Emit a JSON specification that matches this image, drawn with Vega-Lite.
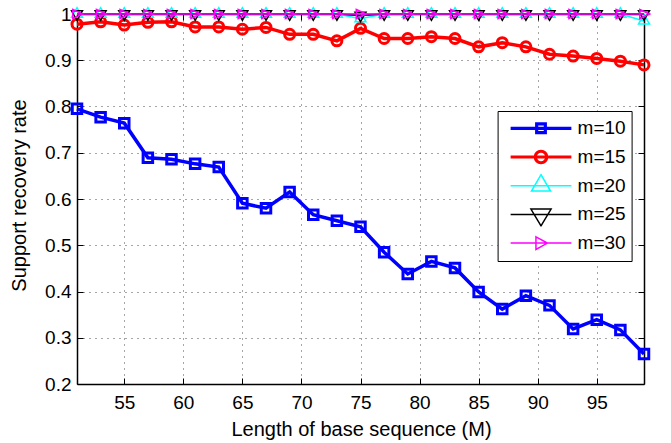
{
 "$schema": "https://vega.github.io/schema/vega-lite/v6.json",
 "width": 567, "height": 370,
 "autosize": {"type": "none"},
 "padding": {"left": 77, "top": 14, "right": 27, "bottom": 59},
 "config": {
  "view": {"stroke": null},
  "font": "Liberation Sans",
  "axis": {"domainColor": "black", "domainWidth": 1.5, "tickColor": "black", "tickWidth": 1, "labelColor": "black", "titleColor": "black", "labelFont": "Liberation Sans", "titleFont": "Liberation Sans", "labelFontSize": 19, "titleFontSize": 20, "titleFontWeight": "normal", "gridColor": "#000000", "gridDash": [1, 5], "gridOpacity": 0.7, "gridWidth": 1},
  "legend": {"title": null, "orient": "none", "legendX": 420.6, "legendY": 97, "strokeColor": "black", "fillColor": "white", "padding": 5, "symbolSize": 784, "symbolOffset": 23.4, "labelOffset": 21.6, "clipHeight": 24.6, "rowPadding": 3.7, "labelFontSize": 19, "labelFont": "Liberation Sans", "labelColor": "black", "symbolFillColor": "transparent", "symbolStrokeWidth": 1.5}
 },
 "data": {"values": [
  {"M":51,"m":"m=10","rate":0.795},{"M":53,"m":"m=10","rate":0.777},{"M":55,"m":"m=10","rate":0.764},{"M":57,"m":"m=10","rate":0.689},{"M":59,"m":"m=10","rate":0.686},{"M":61,"m":"m=10","rate":0.676},{"M":63,"m":"m=10","rate":0.669},{"M":65,"m":"m=10","rate":0.591},{"M":67,"m":"m=10","rate":0.580},{"M":69,"m":"m=10","rate":0.615},{"M":71,"m":"m=10","rate":0.566},{"M":73,"m":"m=10","rate":0.553},{"M":75,"m":"m=10","rate":0.540},{"M":77,"m":"m=10","rate":0.485},{"M":79,"m":"m=10","rate":0.438},{"M":81,"m":"m=10","rate":0.465},{"M":83,"m":"m=10","rate":0.451},{"M":85,"m":"m=10","rate":0.399},{"M":87,"m":"m=10","rate":0.362},{"M":89,"m":"m=10","rate":0.391},{"M":91,"m":"m=10","rate":0.370},{"M":93,"m":"m=10","rate":0.319},{"M":95,"m":"m=10","rate":0.339},{"M":97,"m":"m=10","rate":0.317},{"M":99,"m":"m=10","rate":0.265},
  {"M":51,"m":"m=15","rate":0.978},{"M":53,"m":"m=15","rate":0.983},{"M":55,"m":"m=15","rate":0.976},{"M":57,"m":"m=15","rate":0.982},{"M":59,"m":"m=15","rate":0.983},{"M":61,"m":"m=15","rate":0.972},{"M":63,"m":"m=15","rate":0.972},{"M":65,"m":"m=15","rate":0.967},{"M":67,"m":"m=15","rate":0.971},{"M":69,"m":"m=15","rate":0.956},{"M":71,"m":"m=15","rate":0.956},{"M":73,"m":"m=15","rate":0.942},{"M":75,"m":"m=15","rate":0.969},{"M":77,"m":"m=15","rate":0.947},{"M":79,"m":"m=15","rate":0.947},{"M":81,"m":"m=15","rate":0.951},{"M":83,"m":"m=15","rate":0.947},{"M":85,"m":"m=15","rate":0.929},{"M":87,"m":"m=15","rate":0.938},{"M":89,"m":"m=15","rate":0.929},{"M":91,"m":"m=15","rate":0.913},{"M":93,"m":"m=15","rate":0.909},{"M":95,"m":"m=15","rate":0.904},{"M":97,"m":"m=15","rate":0.898},{"M":99,"m":"m=15","rate":0.890},
  {"M":51,"m":"m=20","rate":1},{"M":53,"m":"m=20","rate":1},{"M":55,"m":"m=20","rate":1},{"M":57,"m":"m=20","rate":1},{"M":59,"m":"m=20","rate":1},{"M":61,"m":"m=20","rate":1},{"M":63,"m":"m=20","rate":1},{"M":65,"m":"m=20","rate":1},{"M":67,"m":"m=20","rate":1},{"M":69,"m":"m=20","rate":1},{"M":71,"m":"m=20","rate":1},{"M":73,"m":"m=20","rate":1},{"M":75,"m":"m=20","rate":0.99},{"M":77,"m":"m=20","rate":1},{"M":79,"m":"m=20","rate":1},{"M":81,"m":"m=20","rate":1},{"M":83,"m":"m=20","rate":1},{"M":85,"m":"m=20","rate":1},{"M":87,"m":"m=20","rate":1},{"M":89,"m":"m=20","rate":1},{"M":91,"m":"m=20","rate":1},{"M":93,"m":"m=20","rate":1},{"M":95,"m":"m=20","rate":1},{"M":97,"m":"m=20","rate":1},{"M":99,"m":"m=20","rate":0.985},
  {"M":51,"m":"m=25","rate":1},{"M":53,"m":"m=25","rate":1},{"M":55,"m":"m=25","rate":1},{"M":57,"m":"m=25","rate":1},{"M":59,"m":"m=25","rate":1},{"M":61,"m":"m=25","rate":1},{"M":63,"m":"m=25","rate":1},{"M":65,"m":"m=25","rate":1},{"M":67,"m":"m=25","rate":1},{"M":69,"m":"m=25","rate":1},{"M":71,"m":"m=25","rate":1},{"M":73,"m":"m=25","rate":1},{"M":75,"m":"m=25","rate":0.997},{"M":77,"m":"m=25","rate":1},{"M":79,"m":"m=25","rate":1},{"M":81,"m":"m=25","rate":1},{"M":83,"m":"m=25","rate":1},{"M":85,"m":"m=25","rate":1},{"M":87,"m":"m=25","rate":1},{"M":89,"m":"m=25","rate":1},{"M":91,"m":"m=25","rate":1},{"M":93,"m":"m=25","rate":1},{"M":95,"m":"m=25","rate":1},{"M":97,"m":"m=25","rate":1},{"M":99,"m":"m=25","rate":1},
  {"M":51,"m":"m=30","rate":1},{"M":53,"m":"m=30","rate":1},{"M":55,"m":"m=30","rate":1},{"M":57,"m":"m=30","rate":1},{"M":59,"m":"m=30","rate":1},{"M":61,"m":"m=30","rate":1},{"M":63,"m":"m=30","rate":1},{"M":65,"m":"m=30","rate":1},{"M":67,"m":"m=30","rate":1},{"M":69,"m":"m=30","rate":1},{"M":71,"m":"m=30","rate":1},{"M":73,"m":"m=30","rate":1},{"M":75,"m":"m=30","rate":1},{"M":77,"m":"m=30","rate":1},{"M":79,"m":"m=30","rate":1},{"M":81,"m":"m=30","rate":1},{"M":83,"m":"m=30","rate":1},{"M":85,"m":"m=30","rate":1},{"M":87,"m":"m=30","rate":1},{"M":89,"m":"m=30","rate":1},{"M":91,"m":"m=30","rate":1},{"M":93,"m":"m=30","rate":1},{"M":95,"m":"m=30","rate":1},{"M":97,"m":"m=30","rate":1},{"M":99,"m":"m=30","rate":1}
 ]},
 "layer": [
  {
   "transform": [{"filter": "datum.M < 0"}],
   "mark": {"type": "point", "filled": false, "opacity": 1, "size": 784},
   "encoding": {
    "x": {"field": "M", "type": "quantitative", "scale": {"domain": [51, 99], "nice": false, "zero": false}, "axis": {"orient": "top", "values": [55, 60, 65, 70, 75, 80, 85, 90, 95], "labels": false, "grid": false, "tickSize": -6, "title": null}},
    "y": {"field": "rate", "type": "quantitative", "scale": {"domain": [0.2, 1], "nice": false, "zero": false}, "axis": {"orient": "right", "values": [0.2, 0.3, 0.4, 0.5, 0.6, 0.7, 0.8, 0.9, 1], "labels": false, "grid": false, "tickSize": -6, "title": null}},
    "color": {"field": "m", "type": "nominal", "scale": {"domain": ["m=10", "m=15", "m=20", "m=25", "m=30"], "range": ["#0000ff", "#ff0000", "#00ffff", "#000000", "#ff00ff"]}, "legend": {}},
    "shape": {"field": "m", "type": "nominal", "scale": {"domain": ["m=10", "m=15", "m=20", "m=25", "m=30"], "range": [
      "M-2.17,-0.06L2.17,-0.06M-2.17,0L2.17,0M-2.17,0.06L2.17,0.06M-0.25,-0.25L0.25,-0.25L0.25,0.25L-0.25,0.25ZM-0.31,-0.31L0.31,-0.31L0.31,0.31L-0.31,0.31ZM-0.37,-0.37L0.37,-0.37L0.37,0.37L-0.37,0.37Z",
      "M-2.17,-0.06L2.17,-0.06M-2.17,0L2.17,0M-2.17,0.06L2.17,0.06M-0.35,0A0.35,0.35,0,1,1,0.35,0A0.35,0.35,0,1,1,-0.35,0ZM-0.41,0A0.41,0.41,0,1,1,0.41,0A0.41,0.41,0,1,1,-0.41,0ZM-0.47,0A0.47,0.47,0,1,1,0.47,0A0.47,0.47,0,1,1,-0.47,0Z",
      "M-2.17,0L2.17,0M0,-0.79L0.68,0.38L-0.68,0.38Z",
      "M-2.17,0L2.17,0M-0.72,-0.38L0.72,-0.38L0,0.82Z",
      "M-2.17,0L2.17,0M-0.36,-0.45L0.46,0L-0.36,0.45Z"]}, "legend": {}}
   }
  },
  {
   "transform": [{"filter": "datum.m === 'm=10'"}],
   "mark": {"type": "line", "opacity": 1, "strokeWidth": 3.5},
   "encoding": {
    "x": {"field": "M", "type": "quantitative",
      "axis": {"orient": "bottom", "values": [55, 60, 65, 70, 75, 80, 85, 90, 95], "grid": true, "tickSize": -6, "labelPadding": 15, "labelBaseline": "top", "labelFlush": false, "title": "Length of base sequence (M)", "titleX": 284, "titleY": 51, "titleBaseline": "alphabetic", "titleAlign": "center"}},
    "y": {"field": "rate", "type": "quantitative",
      "axis": {"orient": "left", "values": [0.2, 0.3, 0.4, 0.5, 0.6, 0.7, 0.8, 0.9, 1], "format": ".1~f", "grid": true, "tickSize": -6, "labelPadding": 12, "labelFlush": false, "title": "Support recovery rate", "titleX": -52, "titleY": 181, "titleBaseline": "alphabetic", "titleAngle": -90, "titleAlign": "center"}},
    "color": {"field": "m", "type": "nominal", "legend": null}
   }
  },
  {
   "transform": [{"filter": "datum.m === 'm=10'"}],
   "mark": {"type": "point", "shape": "square", "size": 90, "filled": false, "strokeWidth": 3, "opacity": 1},
   "encoding": {"x": {"field": "M", "type": "quantitative", "axis": null}, "y": {"field": "rate", "type": "quantitative", "axis": null}, "color": {"field": "m", "type": "nominal", "legend": null}}
  },
  {
   "transform": [{"filter": "datum.m === 'm=15'"}],
   "mark": {"type": "line", "opacity": 1, "strokeWidth": 3.5},
   "encoding": {"x": {"field": "M", "type": "quantitative", "axis": null}, "y": {"field": "rate", "type": "quantitative", "axis": null}, "color": {"field": "m", "type": "nominal", "legend": null}}
  },
  {
   "transform": [{"filter": "datum.m === 'm=15'"}],
   "mark": {"type": "point", "shape": "circle", "size": 100, "filled": false, "strokeWidth": 3, "opacity": 1},
   "encoding": {"x": {"field": "M", "type": "quantitative", "axis": null}, "y": {"field": "rate", "type": "quantitative", "axis": null}, "color": {"field": "m", "type": "nominal", "legend": null}}
  },
  {
   "transform": [{"filter": "datum.m === 'm=20'"}],
   "mark": {"type": "line", "opacity": 1, "strokeWidth": 1.5},
   "encoding": {"x": {"field": "M", "type": "quantitative", "axis": null}, "y": {"field": "rate", "type": "quantitative", "axis": null}, "color": {"field": "m", "type": "nominal", "legend": null}}
  },
  {
   "transform": [{"filter": "datum.m === 'm=20'"}],
   "mark": {"type": "point", "shape": "M0,-1L0.866,0.5L-0.866,0.5Z", "size": 161, "filled": false, "strokeWidth": 1.5, "opacity": 1},
   "encoding": {"x": {"field": "M", "type": "quantitative", "axis": null}, "y": {"field": "rate", "type": "quantitative", "axis": null}, "color": {"field": "m", "type": "nominal", "legend": null}}
  },
  {
   "transform": [{"filter": "datum.m === 'm=25'"}],
   "mark": {"type": "line", "opacity": 1, "strokeWidth": 1.5},
   "encoding": {"x": {"field": "M", "type": "quantitative", "axis": null}, "y": {"field": "rate", "type": "quantitative", "axis": null}, "color": {"field": "m", "type": "nominal", "legend": null}}
  },
  {
   "transform": [{"filter": "datum.m === 'm=25'"}],
   "mark": {"type": "point", "shape": "M0,1L0.866,-0.5L-0.866,-0.5Z", "size": 161, "filled": false, "strokeWidth": 1.5, "opacity": 1},
   "encoding": {"x": {"field": "M", "type": "quantitative", "axis": null}, "y": {"field": "rate", "type": "quantitative", "axis": null}, "color": {"field": "m", "type": "nominal", "legend": null}}
  },
  {
   "transform": [{"filter": "datum.m === 'm=30'"}],
   "mark": {"type": "line", "opacity": 1, "strokeWidth": 1.5},
   "encoding": {"x": {"field": "M", "type": "quantitative", "axis": null}, "y": {"field": "rate", "type": "quantitative", "axis": null}, "color": {"field": "m", "type": "nominal", "legend": null}}
  },
  {
   "transform": [{"filter": "datum.m === 'm=30'"}],
   "mark": {"type": "point", "shape": "M0.95,0L-0.7,0.75L-0.7,-0.75Z", "size": 144, "filled": false, "strokeWidth": 1.5, "opacity": 1},
   "encoding": {"x": {"field": "M", "type": "quantitative", "axis": null}, "y": {"field": "rate", "type": "quantitative", "axis": null}, "color": {"field": "m", "type": "nominal", "legend": null}}
  }
 ],
 "resolve": {"axis": {"x": "independent", "y": "independent"}}
}
